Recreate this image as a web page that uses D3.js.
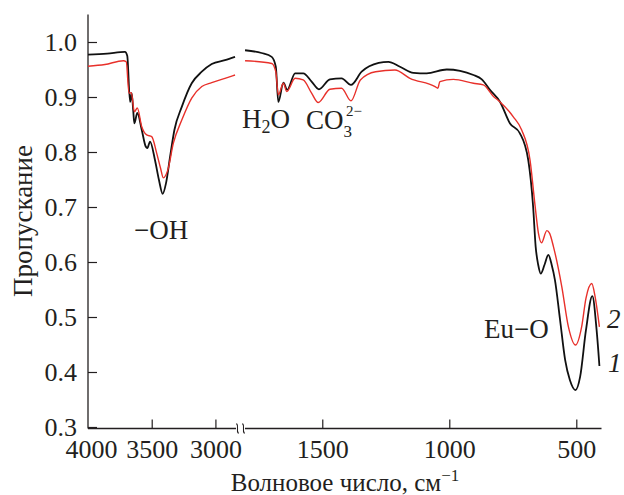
<!DOCTYPE html>
<html>

<head>
    <meta charset="utf-8">
    <style>
        body {
            margin: 0;
            background: white;
        }

        svg {
            overflow: visible;
            font-family: 'Liberation Serif', 'Times New Roman', serif;
        }

        .tick line {
            stroke: #231f20;
            stroke-width: 1.2px;
        }

        .tick text {
            font-size: 26px;
            fill: #231f20;
        }

        .domain {
            stroke: #231f20;
            stroke-width: 1.3px;
        }

        .label {
            font-size: 27px;
            fill: #231f20;
        }
    </style>
</head>

<body>
    <svg width="624" height="495"></svg>
</body>

<script src="https://d3js.org/d3.v7.min.js"></script>

<script>
    // spectrum 1 (black) and 2 (red), [wavenumber, transmission]
    let blackLeft = [
        [4000, 0.977], [3850, 0.979], [3710, 0.982], [3692, 0.975], [3670, 0.891], [3657, 0.907],
        [3645, 0.875], [3636, 0.852], [3613, 0.871], [3578, 0.840], [3547, 0.810], [3534, 0.807],
        [3513, 0.819], [3474, 0.785], [3443, 0.749], [3414, 0.724], [3388, 0.743], [3356, 0.791],
        [3322, 0.840], [3264, 0.882], [3186, 0.925], [3107, 0.946], [3029, 0.960], [2925, 0.967],
        [2846, 0.973]
    ]
    let redLeft = [
        [4000, 0.956], [3867, 0.959], [3723, 0.966], [3700, 0.964], [3678, 0.907], [3660, 0.908],
        [3636, 0.873], [3613, 0.880], [3578, 0.846], [3539, 0.831], [3500, 0.828], [3461, 0.798],
        [3430, 0.770], [3409, 0.753], [3374, 0.767], [3330, 0.816], [3264, 0.858], [3186, 0.898],
        [3107, 0.919], [3029, 0.926], [2925, 0.934], [2846, 0.940]
    ]
    let blackRight = [
        [1804, 0.985], [1739, 0.980], [1699, 0.973], [1683, 0.955], [1673, 0.891], [1653, 0.926],
        [1638, 0.913], [1607, 0.943], [1575, 0.943], [1542, 0.928], [1513, 0.914], [1470, 0.932],
        [1424, 0.934], [1387, 0.922], [1345, 0.946], [1278, 0.962], [1240, 0.964], [1194, 0.955],
        [1141, 0.944], [1089, 0.943], [1010, 0.950], [905, 0.940], [872, 0.932], [840, 0.913],
        [800, 0.891], [761, 0.852], [722, 0.834], [689, 0.785], [670, 0.701], [660, 0.628],
        [650, 0.595], [640, 0.579], [625, 0.595], [610, 0.613], [597, 0.595], [584, 0.567],
        [564, 0.495], [544, 0.422], [525, 0.385], [503, 0.367], [485, 0.391], [462, 0.476],
        [437, 0.538], [420, 0.476], [409, 0.411]
    ]
    let redRight = [
        [1804, 0.966], [1699, 0.961], [1683, 0.946], [1673, 0.904], [1653, 0.925], [1640, 0.910],
        [1607, 0.934], [1575, 0.931], [1542, 0.907], [1516, 0.890], [1470, 0.914], [1424, 0.916],
        [1387, 0.893], [1350, 0.931], [1290, 0.946], [1214, 0.949], [1155, 0.934], [1056, 0.919],
        [1045, 0.916], [1037, 0.928], [984, 0.932], [905, 0.925], [866, 0.922], [826, 0.901],
        [800, 0.891], [748, 0.864], [715, 0.840], [682, 0.785], [662, 0.701], [649, 0.652],
        [637, 0.635], [616, 0.657], [605, 0.652], [590, 0.628], [557, 0.555], [531, 0.482],
        [503, 0.449], [479, 0.482], [462, 0.534], [439, 0.561], [426, 0.537], [409, 0.482]
    ]

    let xTicksLeft = [4000, 3500, 3000]
    let xTicksRight = [1500, 1000, 500]
    let yTicks = [0.3, 0.4, 0.5, 0.6, 0.7, 0.8, 0.9, 1.0]

    let svg = d3.select("body").select("svg")

    let x0 = 88, axisY = 428.5
    let serif = "'Liberation Serif', 'Times New Roman', serif"

    let xL = d3.scaleLinear().domain([4000, 2840]).range([x0, 235.8])
    let xR = d3.scaleLinear().domain([1805, 400]).range([244.8, 601.7])
    let y = d3.scaleLinear().domain([0.3, 1.05]).range([427, 14.5])

    // y axis, ticks pointing inside
    svg.append("g")
        .attr("class", "y axis")
        .attr("transform", `translate(${x0},0)`)
        .call(d3.axisRight(y).tickValues(yTicks).tickSize(9).tickSizeOuter(0).tickFormat(d3.format(".1f")))
        .attr("font-family", serif)
        .call(g => g.select(".domain").attr("d", `M0,${y(1.05)}V${axisY}`))
        .call(g => g.selectAll(".tick text")
            .attr("text-anchor", "end")
            .attr("x", -11)
            .attr("dy", "0.33em"))

    // x axis in two pieces
    let xAxisL = svg.append("g")
        .attr("class", "x axis")
        .attr("transform", `translate(0,${axisY})`)
        .call(d3.axisTop(xL).tickValues(xTicksLeft).tickSize(9).tickSizeOuter(0).tickFormat(d3.format("d")))
        .attr("font-family", serif)
    xAxisL.select(".domain").attr("d", `M${x0},0H236`)
    xAxisL.selectAll(".tick").filter(d => d == 4000).select("line").remove()

    let xAxisR = svg.append("g")
        .attr("class", "x axis")
        .attr("transform", `translate(0,${axisY})`)
        .call(d3.axisTop(xR).tickValues(xTicksRight).tickSize(9).tickSizeOuter(0).tickFormat(d3.format("d")))
        .attr("font-family", serif)
    xAxisR.select(".domain").attr("d", `M245,0H601.5`)

    svg.selectAll(".x .tick text").attr("y", 29).attr("dy", 0)
    xAxisL.selectAll(".tick").filter(d => d == 4000).select("text").attr("x", 3)

    // break marks
    ;[237.5, 243.5].forEach(function (bx) {
        svg.append("path")
            .attr("d", `M${bx - 1},${axisY - 5} C${bx + 2},${axisY - 2} ${bx - 2},${axisY + 2} ${bx + 1},${axisY + 5}`)
            .attr("fill", "none")
            .attr("stroke", "#231f20")
            .attr("stroke-width", 1.1)
    })

    let lineL = d3.line().x(d => xL(d[0])).y(d => y(d[1])).curve(d3.curveMonotoneX)
    let lineR = d3.line().x(d => xR(d[0])).y(d => y(d[1])).curve(d3.curveMonotoneX)

    let curves = [
        { data: blackLeft, line: lineL, color: "#111", w: 1.8 },
        { data: blackRight, line: lineR, color: "#111", w: 1.8 },
        { data: redLeft, line: lineL, color: "#e8302a", w: 1.4 },
        { data: redRight, line: lineR, color: "#e8302a", w: 1.4 }
    ]

    svg.append("g")
        .selectAll("path")
        .data(curves)
        .join("path")
        .attr("fill", "none")
        .attr("stroke", d => d.color)
        .attr("stroke-width", d => d.w)
        .attr("stroke-linejoin", "round")
        .attr("d", d => d.line(d.data))

    // labels
    svg.append("text").attr("class", "label")
        .attr("transform", "translate(32,221) rotate(-90)")
        .attr("text-anchor", "middle")
        .text("Пропускание")

    let xt = svg.append("text").attr("class", "label")
        .attr("x", 345).attr("y", 491)
        .style("font-size", "25px")
        .attr("text-anchor", "middle")
    xt.append("tspan").text("Волновое число, см")
    xt.append("tspan").style("font-size", "17px").attr("dy", -10).text("−1")

    svg.append("text").attr("class", "label")
        .attr("x", 134).attr("y", 239)
        .text("−OH")

    let h2o = svg.append("text").attr("class", "label")
        .attr("x", 242).attr("y", 128)
    h2o.append("tspan").text("H")
    h2o.append("tspan").style("font-size", "18px").attr("dy", 5).text("2")
    h2o.append("tspan").attr("dy", -5).text("O")

    let co3 = svg.append("text").attr("class", "label")
        .attr("x", 306).attr("y", 129)
    co3.append("tspan").text("CO")
    co3.append("tspan").style("font-size", "17px").attr("dy", 8).text("3")

    svg.append("text").attr("class", "label")
        .style("font-size", "15px")
        .attr("x", 346).attr("y", 116)
        .text("2−")

    svg.append("text").attr("class", "label")
        .attr("x", 484).attr("y", 338)
        .text("Eu−O")

    svg.append("text").attr("class", "label")
        .attr("x", 607).attr("y", 328)
        .attr("font-style", "italic")
        .text("2")

    svg.append("text").attr("class", "label")
        .attr("x", 608).attr("y", 372)
        .attr("font-style", "italic")
        .text("1")

</script>

</html>
